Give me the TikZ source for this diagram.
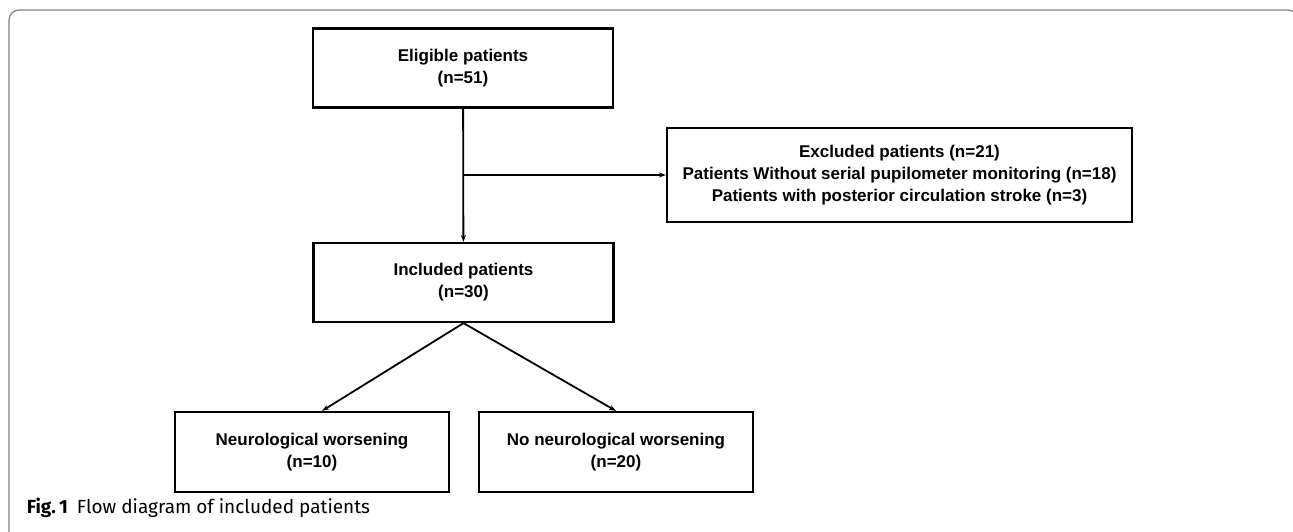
\documentclass[tikz,border=0pt]{standalone}
\usepackage{fontspec}
\setmainfont{Liberation Sans}
\newfontfamily\capfont{Fira Sans}
\usepackage{xcolor}
\usetikzlibrary{positioning,arrows.meta,calc}
\definecolor{frameGray}{HTML}{808080}

\begin{document}
\begin{tikzpicture}[x=1pt, y=-1pt, line width=1.8pt]

    % Shapes
    \tikzstyle{box}=[rectangle, draw, line width=2.2pt, fill=white, minimum width=300pt, minimum height=79pt, align=center, font=\fontsize{17}{22}\selectfont\bfseries]
    \tikzstyle{flow}=[-{Stealth[length=7pt, width=5pt]}]

    \useasboundingbox (0,0) rectangle (1293,531);

    % Frame
    \draw[frameGray, line width=1.2pt, rounded corners=10pt] (9,560) -- (9,10) -- (1298,10) -- (1298,560);

    % Boxes
    \node[box] at (463,68) (elig) {Eligible patients\\(n=51)};
    \node[box, minimum width=465pt, minimum height=94pt] at (899.5,175) (excl) {Excluded patients (n=21)\\Patients Without serial pupilometer monitoring (n=18)\\Patients with posterior circulation stroke (n=3)};
    \node[box] at (463.5,282.5) (incl) {Included patients\\(n=30)};
    \node[box, minimum width=274pt, minimum height=80pt] at (312,452) (worse) {Neurological worsening\\(n=10)};
    \node[box, minimum width=274pt, minimum height=80pt] at (616,452) (noWorse) {No neurological worsening\\(n=20)};

    % Arrows
    \coordinate (split) at (elig.south |- excl.west);
    \draw[flow] (elig) -- (incl);
    \draw[flow] (split) -- (excl);
    \draw[flow] (incl.south) -- ($(worse.north)+(10,0)$);
    \draw[flow] (incl.south) -- (noWorse.north);

    % Caption
    \node[anchor=west, inner sep=0pt, font=\capfont\fontsize{19}{23}\selectfont] at (26,508) (caption) {\textbf{Fig.\,1}\hspace{9pt}Flow diagram of included patients};
\end{tikzpicture}
\end{document}
